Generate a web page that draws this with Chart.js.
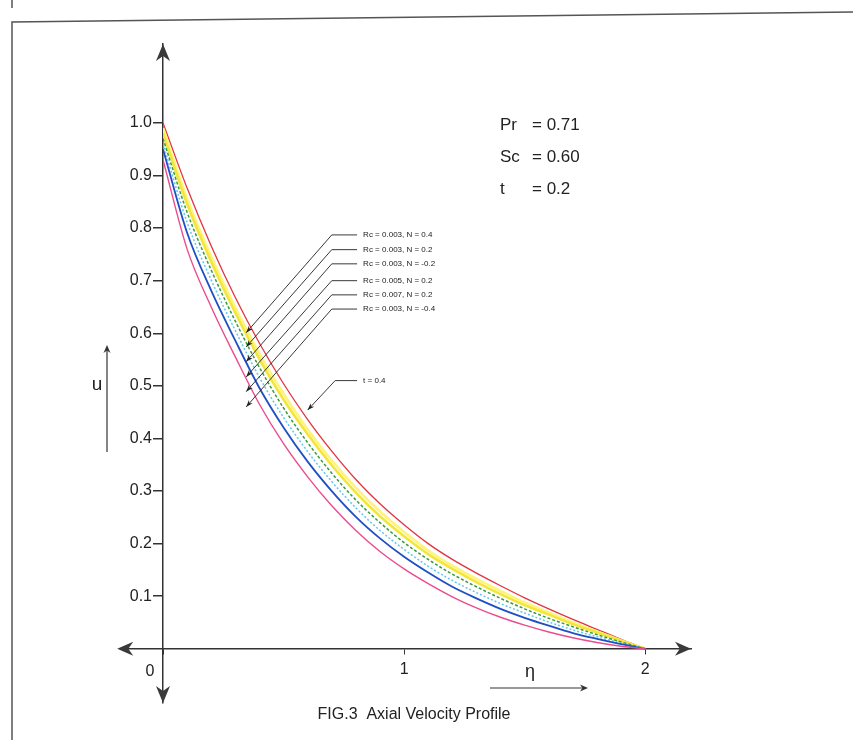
<!DOCTYPE html>
<html>
<head>
<meta charset="utf-8">
<title>FIG.3 Axial Velocity Profile</title>
<script src="https://cdn.jsdelivr.net/npm/chart.js@4.4.1/dist/chart.umd.min.js"></script>
<style>
    html, body { margin: 0; padding: 0; background: #fff; }
    #wrap { position: relative; width: 853px; height: 740px; }
</style>
</head>
<body>
<div id="wrap"><canvas id="chart" width="853" height="740"></canvas></div>
<script>
// ---- Data -----------------------------------------------------------------
const eta = [0, 0.1, 0.2, 0.3, 0.4, 0.5, 0.6, 0.7, 0.8, 0.9, 1.0,
             1.1, 1.2, 1.3, 1.4, 1.5, 1.6, 1.7, 1.8, 1.9, 2.0];

// outermost curve (t = 0.4)
const uT04 = [1.000, 0.876, 0.766, 0.668, 0.581, 0.504, 0.436, 0.376, 0.322, 0.276, 0.236,
              0.200, 0.170, 0.144, 0.120, 0.097, 0.076, 0.056, 0.037, 0.018, 0.000];
const uRc003N04 = [0.990, 0.856, 0.746, 0.649, 0.561, 0.485, 0.417, 0.358, 0.306, 0.261, 0.222,
                   0.187, 0.158, 0.133, 0.110, 0.088, 0.069, 0.050, 0.033, 0.016, 0.000];
const uRc003N02 = [0.980, 0.846, 0.736, 0.639, 0.551, 0.474, 0.408, 0.349, 0.297, 0.252, 0.214,
                   0.180, 0.152, 0.127, 0.104, 0.083, 0.065, 0.047, 0.031, 0.015, 0.000];
const uRc003Nm02 = [0.970, 0.830, 0.720, 0.623, 0.535, 0.458, 0.392, 0.334, 0.283, 0.240, 0.202,
                    0.170, 0.142, 0.118, 0.096, 0.076, 0.058, 0.042, 0.027, 0.013, 0.000];
const uRc005N02 = [0.960, 0.811, 0.701, 0.605, 0.516, 0.440, 0.375, 0.318, 0.268, 0.225, 0.189,
                   0.157, 0.130, 0.107, 0.086, 0.068, 0.051, 0.036, 0.023, 0.011, 0.000];
const uRc007N02 = [0.950, 0.791, 0.681, 0.586, 0.496, 0.421, 0.356, 0.300, 0.251, 0.210, 0.175,
                   0.145, 0.118, 0.096, 0.076, 0.059, 0.044, 0.030, 0.019, 0.009, 0.000];
const uRc003Nm04 = [0.930, 0.760, 0.650, 0.555, 0.465, 0.390, 0.327, 0.272, 0.225, 0.185, 0.152,
                    0.124, 0.099, 0.078, 0.060, 0.045, 0.032, 0.021, 0.012, 0.005, 0.000];

const xTicks = [0, 1, 2];
const yTicks = [0.1, 0.2, 0.3, 0.4, 0.5, 0.6, 0.7, 0.8, 0.9, 1.0];

const legendLabels = ["Rc = 0.003, N = 0.4", "Rc = 0.003, N = 0.2", "Rc = 0.003, N = -0.2",
                      "Rc = 0.005, N = 0.2", "Rc = 0.007, N = 0.2", "Rc = 0.003, N = -0.4"];
// leader lines, in data units (eta, u)
const legendU = [0.787, 0.759, 0.732, 0.700, 0.673, 0.646];
const arrowU = [0.601, 0.574, 0.546, 0.517, 0.489, 0.460];
const tLabel = "t = 0.4";

const paramNames = ["Pr", "Sc", "t"];
const paramValues = ["= 0.71", "= 0.60", "= 0.2"];

// ---- Helpers ----------------------------------------------------------------
const pts = (arr) => eta.map((x, i) => ({ x: x, y: arr[i] }));
const FONT = "'Liberation Sans', Arial, sans-serif";

function curve(label, arr, color, width, dash) {
    return {
        label: label,
        data: pts(arr),
        borderColor: color,
        backgroundColor: color,
        borderWidth: width,
        borderDash: dash || [],
        pointRadius: 0,
        cubicInterpolationMode: "monotone",
        fill: false,
    };
}

function dart(ctx, x, y, ang, len, half) {
    // filled arrow head with a notched back, tip at (x, y), pointing along ang
    const c = Math.cos(ang), s = Math.sin(ang);
    const p = (a, b) => [x - a * c + b * s, y - a * s - b * c];
    const [x1, y1] = p(len, half);
    const [x2, y2] = p(len * 0.7, 0);
    const [x3, y3] = p(len, -half);
    ctx.beginPath();
    ctx.moveTo(x, y);
    ctx.lineTo(x1, y1);
    ctx.lineTo(x2, y2);
    ctx.lineTo(x3, y3);
    ctx.closePath();
    ctx.fill();
}

// ---- Decorations: frame, axis arrows, labels, leader lines ----------------
const decor = {
    id: "decor",
    beforeDraw(chart) {
        const ctx = chart.ctx;
        ctx.save();
        ctx.fillStyle = "#fff";
        ctx.fillRect(0, 0, chart.width, chart.height);
        ctx.strokeStyle = "#555";
        ctx.lineWidth = 1.5;
        ctx.beginPath();
        ctx.moveTo(12, 0);
        ctx.lineTo(12, 8);
        ctx.moveTo(12, 740);
        ctx.lineTo(12, 22);
        ctx.lineTo(853, 12);
        ctx.stroke();
        ctx.restore();
    },
    afterDatasetsDraw(chart) {
        const ctx = chart.ctx;
        const xs = chart.scales.x, ys = chart.scales.y;
        const X = (v) => xs.getPixelForValue(v);
        const Y = (v) => ys.getPixelForValue(v);
        const area = chart.chartArea;
        ctx.save();

        // horizontal axis continues left of the origin
        ctx.strokeStyle = "#333";
        ctx.lineWidth = 1.5;
        ctx.beginPath();
        ctx.moveTo(X(0), Y(0));
        ctx.lineTo(X(-0.17), Y(0));
        ctx.stroke();

        // axis arrow heads
        ctx.fillStyle = "#3a3a3a";
        dart(ctx, X(0), area.top, -Math.PI / 2, 17, 7);
        dart(ctx, X(0), area.bottom, Math.PI / 2, 17, 7);
        dart(ctx, X(-0.19), Y(0), Math.PI, 16, 7);
        dart(ctx, area.right, Y(0), 0, 16, 7);

        // legend leaders
        ctx.strokeStyle = "#222";
        ctx.fillStyle = "#222";
        ctx.lineWidth = 0.9;
        ctx.font = "8px " + FONT;
        ctx.textBaseline = "middle";
        ctx.textAlign = "left";
        legendLabels.forEach((lab, i) => {
            const x0 = X(0.70), x1 = X(0.805), y0 = Y(legendU[i]);
            const ax = X(0.345), ay = Y(arrowU[i]);
            ctx.beginPath();
            ctx.moveTo(x1, y0);
            ctx.lineTo(x0, y0);
            ctx.lineTo(ax, ay);
            ctx.stroke();
            dart(ctx, ax, ay, Math.atan2(ay - y0, ax - x0), 7, 2.5);
            ctx.fillText(lab, X(0.83), y0);
        });
        {
            const x0 = X(0.714), x1 = X(0.805), y0 = Y(0.510);
            const ax = X(0.60), ay = Y(0.454);
            ctx.beginPath();
            ctx.moveTo(x1, y0);
            ctx.lineTo(x0, y0);
            ctx.lineTo(ax, ay);
            ctx.stroke();
            dart(ctx, ax, ay, Math.atan2(ay - y0, ax - x0), 7, 2.5);
            ctx.fillText(tLabel, X(0.83), y0);
        }

        // "0" label at the origin, left of the vertical axis
        ctx.fillStyle = "#222";
        ctx.font = "16px " + FONT;
        ctx.textAlign = "center";
        ctx.textBaseline = "top";
        ctx.fillText("0", X(0) - 13, Y(0) + 15);

        // eta axis title with arrow underneath
        ctx.font = "18px " + FONT;
        ctx.fillText("\u03b7", 530, Y(0) + 14);
        ctx.strokeStyle = "#333";
        ctx.fillStyle = "#333";
        ctx.lineWidth = 1.2;
        ctx.beginPath();
        ctx.moveTo(490, 688);
        ctx.lineTo(584, 688);
        ctx.stroke();
        dart(ctx, 588, 688, 0, 8, 3.5);

        // u axis title with arrow beside it
        ctx.fillStyle = "#222";
        ctx.font = "19px " + FONT;
        ctx.textAlign = "center";
        ctx.textBaseline = "middle";
        ctx.fillText("u", 97, 385);
        ctx.beginPath();
        ctx.moveTo(107, 452);
        ctx.lineTo(107, 350);
        ctx.stroke();
        ctx.fillStyle = "#333";
        dart(ctx, 107, 345, -Math.PI / 2, 8, 3.5);

        // parameter box
        ctx.fillStyle = "#222";
        ctx.font = "17px " + FONT;
        ctx.textAlign = "left";
        paramNames.forEach((n, i) => {
            ctx.fillText(n, 500, 125 + i * 32);
            ctx.fillText(paramValues[i], 532, 125 + i * 32);
        });

        // caption
        ctx.font = "16px " + FONT;
        ctx.textAlign = "center";
        ctx.fillText("FIG.3  Axial Velocity Profile", 414, 715);
        ctx.restore();
    },
};

// ---- Chart ------------------------------------------------------------------
new Chart(document.getElementById("chart"), {
    type: "line",
    data: {
        datasets: [
            curve("Rc = 0.003, N = -0.4", uRc003Nm04, "#ec4b8e", 1.4),
            curve("Rc = 0.007, N = 0.2", uRc007N02, "#1f4fc4", 1.8),
            curve("Rc = 0.005, N = 0.2", uRc005N02, "#62c6f0", 1.5, [2, 2]),
            curve("Rc = 0.003, N = -0.2", uRc003Nm02, "#3a9a3a", 1.5, [3, 2]),
            curve("Rc = 0.003, N = 0.2", uRc003N02, "#f3e63a", 2.6),
            curve("Rc = 0.003, N = 0.4", uRc003N04, "#fff37c", 2.6),
            curve("t = 0.4", uT04, "#e2343f", 1.3),
        ],
    },
    options: {
        responsive: false,
        animation: false,
        devicePixelRatio: 1,
        layout: { padding: { left: 117, right: 162, top: 44, bottom: 37 } },
        plugins: { legend: { display: false }, tooltip: { enabled: false } },
        scales: {
            x: {
                type: "linear",
                min: 0,
                max: 2.19,
                position: { y: 0 },
                afterBuildTicks: (axis) => { axis.ticks = xTicks.map((v) => ({ value: v })); },
                ticks: {
                    callback: (v) => (v === 0 ? "" : String(v)),
                    color: "#222",
                    font: { size: 16, family: FONT },
                    padding: 6,
                    maxRotation: 0,
                    autoSkip: false,
                },
                grid: { drawOnChartArea: false, drawTicks: true, tickLength: 5, color: "#333" },
                border: { display: true, color: "#333", width: 1.5 },
            },
            y: {
                type: "linear",
                min: -0.103,
                max: 1.15,
                position: "left",
                afterFit: (axis) => { axis.width = 46; },
                afterBuildTicks: (axis) => { axis.ticks = yTicks.map((v) => ({ value: v })); },
                ticks: {
                    callback: (v) => v.toFixed(1),
                    color: "#222",
                    font: { size: 16, family: FONT },
                    padding: 1,
                    autoSkip: false,
                },
                grid: { drawOnChartArea: false, drawTicks: true, tickLength: 10, color: "#333", lineWidth: 1.5 },
                border: { display: true, color: "#333", width: 1.5 },
            },
        },
    },
    plugins: [decor],
});
</script>
</body>
</html>
